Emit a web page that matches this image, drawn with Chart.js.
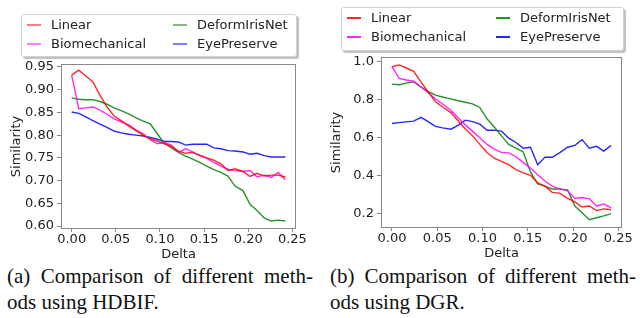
<!DOCTYPE html>
<html>
<head>
<meta charset="utf-8">
<script src="https://cdn.jsdelivr.net/npm/chart.js@4.4.0/dist/chart.umd.min.js"></script>
<style>
  body { margin: 0; width: 640px; height: 318px; background: #fff; position: relative; overflow: hidden; font-family: "DejaVu Sans", sans-serif; }
  canvas { position: absolute; top: 0; }
  .legend { position: absolute; background: #fff; border: 1px solid #d0d0d0; border-radius: 3px; box-shadow: 2px 2px 1px rgba(0,0,0,0.25); font-size: 13px; color: #222; }
  .item { position: absolute; height: 16px; line-height: 16px; white-space: nowrap; }
  .item i { position: absolute; display: block; left: 0; top: 7px; width: 14px; height: 2px; }
  .item span { position: absolute; }
  .cap { position: absolute; width: 306px; font-family: "Liberation Serif", serif; font-size: 21px; line-height: 26px; color: #111; white-space: nowrap; }
  .cap.j { text-align: justify; text-align-last: justify; white-space: normal; }
</style>
</head>
<body>
<canvas id="hdbif" width="320" height="262" style="left:0"></canvas>
<canvas id="dgr" width="320" height="261" style="left:320px"></canvas>
<div class="cap j" style="left:7px; top:263px">(a) Comparison of different meth-</div>
<div class="cap" style="left:7px; top:289px">ods using HDBIF.</div>
<div class="cap j" style="left:330px; top:263px">(b) Comparison of different meth-</div>
<div class="cap" style="left:330px; top:289px">ods using DGR.</div>
<script>
// Data
const deltas = [0, 0.008, 0.016, 0.024, 0.032, 0.040, 0.048, 0.056, 0.065, 0.073, 0.081,
  0.089, 0.097, 0.105, 0.113, 0.121, 0.129, 0.137, 0.145, 0.153, 0.161,
  0.169, 0.177, 0.185, 0.194, 0.202, 0.210, 0.218, 0.226, 0.234, 0.242];

const methods = ["Linear", "Biomechanical", "DeformIrisNet", "EyePreserve"];

// (a) HDBIF
const hdbifLinear = [0.932, 0.943, 0.930, 0.917, 0.888, 0.862, 0.842, 0.832, 0.820, 0.810, 0.800,
  0.792, 0.787, 0.781, 0.775, 0.765, 0.760, 0.762, 0.756, 0.750, 0.745,
  0.737, 0.722, 0.726, 0.720, 0.709, 0.716, 0.710, 0.712, 0.712, 0.708];
const hdbifBiomech = [0.932, 0.858, 0.860, 0.862, 0.855, 0.846, 0.836, 0.829, 0.822, 0.811, 0.803,
  0.790, 0.781, 0.784, 0.778, 0.762, 0.770, 0.763, 0.755, 0.749, 0.740,
  0.732, 0.725, 0.722, 0.720, 0.722, 0.708, 0.712, 0.707, 0.718, 0.702];
const hdbifDeform = [0.882, 0.879, 0.878, 0.878, 0.874, 0.868, 0.860, 0.854, 0.846, 0.838, 0.831,
  0.825, 0.803, 0.782, 0.772, 0.762, 0.754, 0.747, 0.740, 0.732, 0.724,
  0.718, 0.710, 0.688, 0.678, 0.648, 0.634, 0.618, 0.611, 0.613, 0.611];
const hdbifEye = [0.851, 0.848, 0.840, 0.832, 0.824, 0.817, 0.809, 0.805, 0.802, 0.800, 0.798,
  0.795, 0.791, 0.786, 0.786, 0.785, 0.778, 0.780, 0.780, 0.780, 0.772,
  0.770, 0.766, 0.765, 0.763, 0.758, 0.760, 0.755, 0.752, 0.752, 0.752];

// (b) DGR
const dgrLinear = [0.975, 0.984, 0.968, 0.950, 0.895, 0.842, 0.790, 0.762, 0.733, 0.690, 0.646,
  0.610, 0.565, 0.522, 0.492, 0.475, 0.458, 0.432, 0.415, 0.402, 0.362,
  0.345, 0.312, 0.308, 0.280, 0.262, 0.235, 0.240, 0.216, 0.225, 0.220];
const dgrBiomech = [0.975, 0.913, 0.905, 0.898, 0.868, 0.838, 0.806, 0.778, 0.745, 0.705, 0.668,
  0.635, 0.600, 0.565, 0.540, 0.523, 0.520, 0.500, 0.470, 0.440, 0.405,
  0.372, 0.345, 0.330, 0.320, 0.280, 0.285, 0.278, 0.240, 0.250, 0.230];
const dgrDeform = [0.883, 0.880, 0.888, 0.895, 0.868, 0.845, 0.825, 0.815, 0.805, 0.795, 0.787,
  0.779, 0.760, 0.700, 0.657, 0.610, 0.565, 0.545, 0.525, 0.420, 0.357,
  0.345, 0.330, 0.330, 0.325, 0.240, 0.205, 0.168, 0.178, 0.188, 0.200];
const dgrEye = [0.675, 0.680, 0.684, 0.688, 0.708, 0.685, 0.660, 0.652, 0.645, 0.665, 0.693,
  0.685, 0.672, 0.640, 0.640, 0.635, 0.598, 0.575, 0.545, 0.550, 0.458,
  0.498, 0.497, 0.520, 0.550, 0.560, 0.590, 0.545, 0.555, 0.530, 0.560];

const xTicks = [0, 0.05, 0.10, 0.15, 0.20, 0.25];
const hdbifYTicks = [0.60, 0.65, 0.70, 0.75, 0.80, 0.85, 0.90, 0.95];
const dgrYTicks = [0.2, 0.4, 0.6, 0.8, 1.0];

const lineColors = ["rgba(255,0,0,0.85)", "rgba(255,0,255,0.85)", "rgba(0,128,0,0.85)", "rgba(0,0,255,0.85)"];

// draws the box around the plot, like matplotlib spines
const framePlugin = {
  id: "frame",
  afterDraw(chart) {
    const { ctx, chartArea: a } = chart;
    ctx.save();
    ctx.strokeStyle = "#888";
    ctx.lineWidth = 1;
    ctx.strokeRect(a.left + 0.5, a.top + 0.5, a.right - a.left - 1, a.bottom - a.top - 1);
    ctx.restore();
  },
};

function makeChart(id, series, yTicks, yMin, yMax, decimals, pad) {
  const datasets = series.map((vals, i) => ({
    label: methods[i],
    data: vals.map((v, k) => ({ x: deltas[k], y: v })),
    borderColor: lineColors[i],
    borderWidth: 1.4,
    pointRadius: 0,
    tension: 0,
    fill: false,
  }));
  const tickFont = { family: "DejaVu Sans", size: 13 };
  new Chart(document.getElementById(id).getContext("2d"), {
    type: "line",
    data: { datasets },
    plugins: [framePlugin],
    options: {
      responsive: false,
      animation: false,
      layout: { padding: pad },
      plugins: { legend: { display: false }, tooltip: { enabled: false } },
      scales: {
        x: {
          type: "linear",
          min: -0.0121,
          max: 0.2541,
          afterBuildTicks: (s) => { s.ticks = xTicks.map((v) => ({ value: v })); },
          afterFit: (s) => { s.height = 33; },
          ticks: { font: tickFont, color: "#222", padding: 0, maxRotation: 0, callback: (v) => v.toFixed(2) },
          grid: { drawOnChartArea: false, tickLength: 3, color: "#888" },
          border: { display: false },
          title: { display: true, text: "Delta", font: tickFont, color: "#222", padding: { top: 0, bottom: 0 } },
        },
        y: {
          min: yMin,
          max: yMax,
          afterBuildTicks: (s) => { s.ticks = yTicks.map((v) => ({ value: v })); },
          afterFit: (s) => { s.width = 61; },
          ticks: { font: tickFont, color: "#222", padding: 3, callback: (v) => v.toFixed(decimals) },
          grid: { drawOnChartArea: false, tickLength: 4, color: "#888" },
          border: { display: false },
          title: { display: true, text: "Similarity", font: tickFont, color: "#222", padding: { top: 9, bottom: 0 } },
        },
      },
    },
  });
}

function makeLegend(left, top, width, height, rows, cols, alpha) {
  const box = document.createElement("div");
  box.className = "legend";
  Object.assign(box.style, { left: left + "px", top: top + "px", width: width + "px", height: height + "px" });
  methods.forEach((name, i) => {
    const it = document.createElement("div");
    it.className = "item";
    it.style.left = cols[Math.floor(i / 2)] + "px";
    it.style.top = rows[i % 2] - 8 + "px";
    const mark = document.createElement("i");
    mark.style.backgroundColor = lineColors[i];
    mark.style.opacity = alpha;
    const txt = document.createElement("span");
    txt.style.left = "24px";
    txt.textContent = name;
    it.appendChild(mark);
    it.appendChild(txt);
    box.appendChild(it);
  });
  document.body.appendChild(box);
}

makeChart("hdbif", [hdbifLinear, hdbifBiomech, hdbifDeform, hdbifEye], hdbifYTicks, 0.5935, 0.9565, 2,
  { left: 0, right: 24, top: 64, bottom: 0 });
makeChart("dgr", [dgrLinear, dgrBiomech, dgrDeform, dgrEye], dgrYTicks, 0.124, 1.026, 1,
  { left: 0, right: 18, top: 57, bottom: 0 });

makeLegend(21, 14, 274, 41, [10, 29], [5, 151], 0.6);
makeLegend(341, 7, 281, 42, [10, 29], [5, 154], 1);
</script>
</body>
</html>
